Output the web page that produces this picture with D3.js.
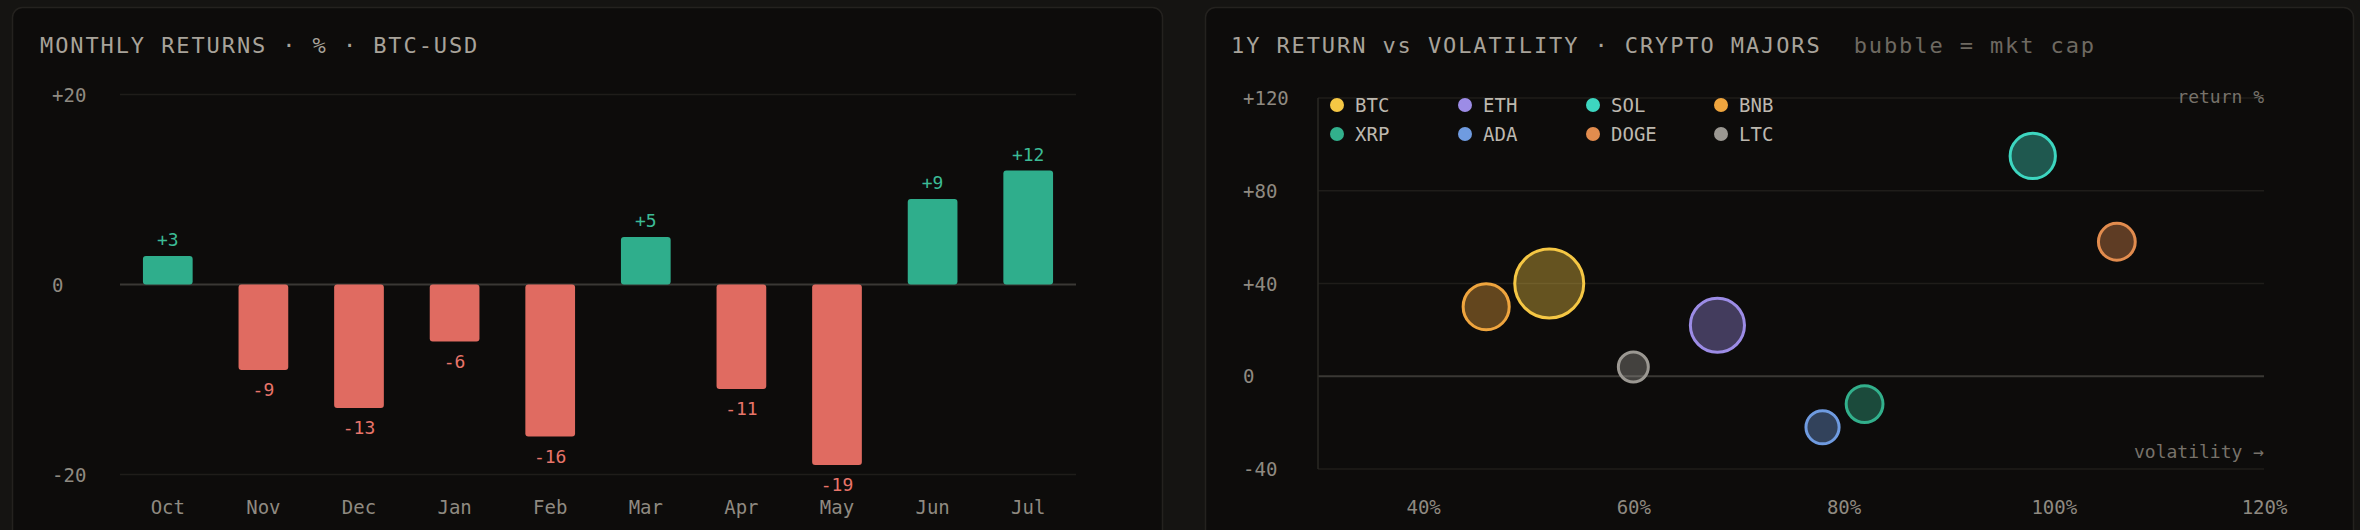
<!DOCTYPE html>
<html>
<head>
<meta charset="utf-8">
<script src="https://cdn.jsdelivr.net/npm/d3@7"></script>
<style>
  html, body { margin: 0; padding: 0; background: #151412; }
  svg { display: block; }
  text { font-family: "DejaVu Sans Mono", "Liberation Mono", monospace; }
</style>
</head>
<body>
<svg id="chart" width="2360" height="530"></svg>
<script>
// monthly returns, BTC-USD
const months = ['Oct', 'Nov', 'Dec', 'Jan', 'Feb', 'Mar', 'Apr', 'May', 'Jun', 'Jul']
const monthlyReturns = [3, -9, -13, -6, -16, 5, -11, -19, 9, 12]
const returnTicks = [20, 0, -20]

// 1y return vs volatility
const coins = ['BTC', 'ETH', 'SOL', 'BNB', 'XRP', 'ADA', 'DOGE', 'LTC']
const volatility = [52, 68, 98, 46, 82, 78, 106, 60]
const yearReturn = [40, 22, 95, 30, -12, -22, 58, 4]
const mktCap = [1300, 800, 560, 580, 370, 300, 370, 245]
const coinColors = ['#f5c744', '#9c8ce6', '#3dd6c0', '#efa53e', '#32b08c', '#6f9be0', '#e28c4e', '#9b9892']
const volTicks = [40, 60, 80, 100, 120]
const retTicks = [120, 80, 40, 0, -40]

const svg = d3.select('#chart')
const signed = v => (v > 0 ? '+' + v : String(v))

// cards
svg.append('rect').attr('x', 12.5).attr('y', 7.5).attr('width', 1150).attr('height', 560)
  .attr('rx', 10).attr('fill', '#0d0c0b').attr('stroke', '#24221f').attr('stroke-width', 1.5)
svg.append('rect').attr('x', 1205.5).attr('y', 7.5).attr('width', 1148).attr('height', 560)
  .attr('rx', 10).attr('fill', '#0d0c0b').attr('stroke', '#24221f').attr('stroke-width', 1.5)

// ---------- left: monthly returns ----------
const left = svg.append('g')

left.append('text')
  .attr('x', 40).attr('y', 53)
  .attr('fill', '#a8a39a').style('font-size', '22px').style('letter-spacing', '1.9px')
  .text('MONTHLY RETURNS · % · BTC-USD')

const xBand = d3.scaleBand()
  .domain(months)
  .range([120, 1076])
  .paddingInner(0.48)
  .paddingOuter(0.24)

const yRet = d3.scaleLinear()
  .domain([-20, 20])
  .range([474.5, 94.5])

left.selectAll('line.grid')
  .data(returnTicks)
  .enter()
  .append('line')
  .attr('class', 'grid')
  .attr('x1', 120).attr('x2', 1076)
  .attr('y1', d => yRet(d)).attr('y2', d => yRet(d))
  .attr('stroke', d => d === 0 ? '#3a3835' : '#1f1d1a')
  .attr('stroke-width', d => d === 0 ? 2 : 1.5)

const yAxisL = d3.axisLeft(yRet).tickValues(returnTicks).tickSize(0).tickFormat(signed)
left.append('g')
  .call(yAxisL)
  .call(g => g.select('.domain').remove())
  .call(g => g.selectAll('text')
    .attr('x', 52).attr('dy', '0.35em')
    .attr('text-anchor', 'start')
    .attr('fill', '#8f8a81')
    .style('font-size', '19px'))

const xAxisL = d3.axisBottom(xBand).tickSize(0)
left.append('g')
  .attr('transform', 'translate(0,500)')
  .call(xAxisL)
  .call(g => g.select('.domain').remove())
  .call(g => g.selectAll('text')
    .attr('y', 0).attr('dy', '0.75em')
    .attr('fill', '#8f8a81')
    .style('font-size', '19px'))

left.selectAll('rect.bar')
  .data(monthlyReturns)
  .enter()
  .append('rect')
  .attr('class', 'bar')
  .attr('x', (d, i) => xBand(months[i]))
  .attr('y', d => yRet(Math.max(0, d)))
  .attr('width', xBand.bandwidth())
  .attr('height', d => Math.abs(yRet(d) - yRet(0)))
  .attr('rx', 3)
  .attr('fill', d => d >= 0 ? '#2fae8c' : '#e06b61')

left.selectAll('text.val')
  .data(monthlyReturns)
  .enter()
  .append('text')
  .attr('class', 'val')
  .attr('x', (d, i) => xBand(months[i]) + xBand.bandwidth() / 2)
  .attr('y', d => d >= 0 ? yRet(d) - 10 : yRet(d) + 26)
  .attr('text-anchor', 'middle')
  .attr('fill', d => d >= 0 ? '#3cbb96' : '#e8756a')
  .style('font-size', '18px')
  .text(signed)

// ---------- right: return vs volatility ----------
const right = svg.append('g')

const title2 = right.append('text')
  .attr('x', 1231).attr('y', 53)
  .style('font-size', '22px').style('letter-spacing', '1.9px')
title2.append('tspan').attr('fill', '#a8a39a').text('1Y RETURN vs VOLATILITY · CRYPTO MAJORS')
title2.append('tspan').attr('fill', '#6e6961').attr('dx', 32).text('bubble = mkt cap')

const xVol = d3.scaleLinear().domain([30, 120]).range([1318, 2264])
const yYr = d3.scaleLinear().domain([-40, 120]).range([469, 98])
const rCap = d3.scaleSqrt().domain([0, d3.max(mktCap)]).range([0, 34.5])

right.selectAll('line.grid')
  .data(retTicks)
  .enter()
  .append('line')
  .attr('class', 'grid')
  .attr('x1', 1318).attr('x2', 2264)
  .attr('y1', d => yYr(d)).attr('y2', d => yYr(d))
  .attr('stroke', d => d === 0 ? '#3a3835' : '#1f1d1a')
  .attr('stroke-width', d => d === 0 ? 2 : 1.5)

right.append('line')
  .attr('x1', 1318).attr('x2', 1318)
  .attr('y1', yYr(120)).attr('y2', yYr(-40))
  .attr('stroke', '#2a2825').attr('stroke-width', 1.5)

const yAxisR = d3.axisLeft(yYr).tickValues(retTicks).tickSize(0).tickFormat(signed)
right.append('g')
  .call(yAxisR)
  .call(g => g.select('.domain').remove())
  .call(g => g.selectAll('text')
    .attr('x', 1243).attr('dy', '0.35em')
    .attr('text-anchor', 'start')
    .attr('fill', '#8f8a81')
    .style('font-size', '19px'))

const xAxisR = d3.axisBottom(xVol).tickValues(volTicks).tickSize(0).tickFormat(d => d + '%')
right.append('g')
  .attr('transform', 'translate(0,500)')
  .call(xAxisR)
  .call(g => g.select('.domain').remove())
  .call(g => g.selectAll('text')
    .attr('y', 0).attr('dy', '0.75em')
    .attr('fill', '#8f8a81')
    .style('font-size', '19px'))

right.append('text')
  .attr('x', 2264).attr('y', 103)
  .attr('text-anchor', 'end')
  .attr('fill', '#77726a').style('font-size', '18px')
  .text('return %')

right.append('text')
  .attr('x', 2264).attr('y', 458)
  .attr('text-anchor', 'end')
  .attr('fill', '#77726a').style('font-size', '18px')
  .text('volatility →')

right.selectAll('circle.bubble')
  .data(coins)
  .enter()
  .append('circle')
  .attr('class', 'bubble')
  .attr('cx', (d, i) => xVol(volatility[i]))
  .attr('cy', (d, i) => yYr(yearReturn[i]))
  .attr('r', (d, i) => rCap(mktCap[i]))
  .attr('fill', (d, i) => coinColors[i])
  .attr('fill-opacity', 0.38)
  .attr('stroke', (d, i) => coinColors[i])
  .attr('stroke-width', 3)

// legend, 4 per row
const legend = right.selectAll('g.legend')
  .data(coins)
  .enter()
  .append('g')
  .attr('class', 'legend')
  .attr('transform', (d, i) => 'translate(' + (1337 + (i % 4) * 128) + ',' + (105 + Math.floor(i / 4) * 29) + ')')

legend.append('circle')
  .attr('r', 7)
  .attr('fill', (d, i) => coinColors[i])

legend.append('text')
  .attr('x', 18).attr('dy', '0.36em')
  .attr('fill', '#bdb8af').style('font-size', '19px')
  .text(d => d)
</script>
</body>
</html>
